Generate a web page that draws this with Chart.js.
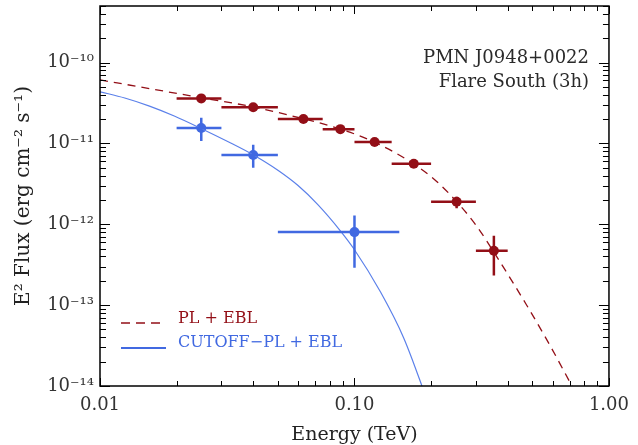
<!DOCTYPE html>
<html>
<head>
<meta charset="utf-8">
<script src="https://cdn.jsdelivr.net/npm/chart.js@4.4.1/dist/chart.umd.min.js"></script>
<style>html,body{margin:0;padding:0;background:#fff}</style>
</head>
<body>
<canvas id="sed" width="638" height="445"></canvas>
<script>
// measured spectral points (E in TeV, E^2 flux in erg cm^-2 s^-1)
var redE    = [0.025, 0.040, 0.063, 0.088, 0.120, 0.171, 0.252, 0.353];
var redF    = [3.6e-11, 2.8e-11, 2.0e-11, 1.5e-11, 1.04e-11, 5.6e-12, 1.9e-12, 4.7e-13];
var redELo  = [0.020, 0.030, 0.050, 0.075, 0.100, 0.140, 0.200, 0.300];
var redEHi  = [0.030, 0.050, 0.075, 0.100, 0.140, 0.200, 0.300, 0.400];
var redFLo  = [3.4e-11, 2.65e-11, 1.9e-11, 1.42e-11, 0.98e-11, 5.2e-12, 1.58e-12, 2.33e-13];
var redFHi  = [3.8e-11, 2.95e-11, 2.1e-11, 1.58e-11, 1.10e-11, 6.0e-12, 2.19e-12, 7.2e-13];

var blueE   = [0.025, 0.040, 0.100];
var blueF   = [1.55e-11, 7.2e-12, 8.0e-13];
var blueELo = [0.020, 0.030, 0.050];
var blueEHi = [0.030, 0.050, 0.150];
var blueFLo = [1.07e-11, 5.0e-12, 2.9e-13];
var blueFHi = [2.08e-11, 9.6e-12, 1.28e-12];

// model curves
var plModelE  = [0.010, 0.01565, 0.0250, 0.0401, 0.0628, 0.0877, 0.1204, 0.1707, 0.2104, 0.2517,
                 0.3010, 0.3601, 0.4713, 0.5804, 0.7051, 0.7713];
var plModelF  = [6.09e-11, 4.76e-11, 3.67e-11, 2.82e-11, 2.02e-11, 1.51e-11, 1.03e-11, 5.57e-12, 3.38e-12, 1.91e-12,
                 9.64e-13, 4.09e-13, 1.04e-13, 3.37e-14, 1.09e-14, 6.5e-15];
var cutModelE = [0.010, 0.01251, 0.01565, 0.01958, 0.02494, 0.03205, 0.0401, 0.05017, 0.06001, 0.07178,
                 0.08799, 0.0994, 0.1266, 0.1561, 0.1839, 0.1958];
var cutModelF = [4.35e-11, 3.64e-11, 2.89e-11, 2.18e-11, 1.53e-11, 1.04e-11, 7.18e-12, 4.62e-12, 3.01e-12, 1.75e-12,
                 8.31e-13, 4.98e-13, 1.45e-13, 3.93e-14, 1.01e-14, 5.7e-15];

var xTicks = [0.01, 0.1, 1];
var xTickLabels = ['0.01', '0.10', '1.00'];
var yTicks = [1e-14, 1e-13, 1e-12, 1e-11, 1e-10];
var yTickLabels = ['10\u207B\u00B9\u2074', '10\u207B\u00B9\u00B3', '10\u207B\u00B9\u00B2', '10\u207B\u00B9\u00B9', '10\u207B\u00B9\u2070'];

var RED = '#930f17';
var BLUE = '#4169e1';
var SERIF = 'DejaVu Serif';

function pts(xs, ys) {
    return xs.map(function (x, i) { return {x: x, y: ys[i]}; });
}

var errorBars = {
    id: 'errorBars',
    afterDatasetsDraw: function (chart) {
        var ctx = chart.ctx, xs = chart.scales.x, ys = chart.scales.y;
        function bars(E, F, eLo, eHi, fLo, fHi, color) {
            ctx.save();
            ctx.strokeStyle = color;
            ctx.lineWidth = 2.5;
            for (var i = 0; i < E.length; i++) {
                var px = xs.getPixelForValue(E[i]), py = ys.getPixelForValue(F[i]);
                ctx.beginPath();
                ctx.moveTo(xs.getPixelForValue(eLo[i]), py);
                ctx.lineTo(xs.getPixelForValue(eHi[i]), py);
                ctx.moveTo(px, ys.getPixelForValue(fLo[i]));
                ctx.lineTo(px, ys.getPixelForValue(fHi[i]));
                ctx.stroke();
            }
            ctx.restore();
        }
        bars(redE, redF, redELo, redEHi, redFLo, redFHi, RED);
        bars(blueE, blueF, blueELo, blueEHi, blueFLo, blueFHi, BLUE);
    }
};

var frameAndText = {
    id: 'frameAndText',
    afterDraw: function (chart) {
        var ctx = chart.ctx, a = chart.chartArea, xs = chart.scales.x, ys = chart.scales.y;
        ctx.save();
        ctx.strokeStyle = '#000';
        ctx.lineWidth = 1.5;
        ctx.strokeRect(a.left, a.top, a.right - a.left, a.bottom - a.top);
        ctx.lineWidth = 1;
        ctx.beginPath();
        // x ticks, bottom and top
        xTicks.forEach(function (d) {
            for (var k = 1; k <= 9; k++) {
                var v = d * k;
                if (v < xs.min - 1e-12 || v > xs.max + 1e-12) continue;
                var px = Math.round(xs.getPixelForValue(v)) + 0.5;
                var len = k === 1 ? 8 : 5;
                ctx.moveTo(px, a.bottom); ctx.lineTo(px, a.bottom - len);
                ctx.moveTo(px, a.top); ctx.lineTo(px, a.top + len);
            }
        });
        // y ticks, left and right
        yTicks.forEach(function (d) {
            for (var k = 1; k <= 9; k++) {
                var v = d * k;
                if (v < ys.min * 0.999 || v > ys.max * 1.001) continue;
                var py = Math.round(ys.getPixelForValue(v)) + 0.5;
                var len = k === 1 ? 10 : 6;
                ctx.moveTo(a.left, py); ctx.lineTo(a.left + len, py);
                ctx.moveTo(a.right, py); ctx.lineTo(a.right - len, py);
            }
        });
        ctx.stroke();

        // legend
        ctx.lineWidth = 1.3;
        ctx.strokeStyle = RED;
        ctx.setLineDash([9, 6]);
        ctx.beginPath(); ctx.moveTo(121, 323); ctx.lineTo(166, 323); ctx.stroke();
        ctx.setLineDash([]);
        ctx.lineWidth = 2;
        ctx.strokeStyle = BLUE;
        ctx.beginPath(); ctx.moveTo(121, 348); ctx.lineTo(166, 348); ctx.stroke();
        ctx.font = '16px "' + SERIF + '"';
        ctx.textBaseline = 'alphabetic';
        ctx.fillStyle = RED;
        ctx.fillText(chart.data.datasets[0].label, 178, 323);
        ctx.fillStyle = BLUE;
        ctx.fillText(chart.data.datasets[1].label, 178, 347);

        // source label
        ctx.font = '18px "' + SERIF + '"';
        ctx.fillStyle = '#2a2a2a';
        ctx.textAlign = 'right';
        ctx.fillText('PMN J0948+0022', 589, 63);
        ctx.fillText('Flare South (3h)', 589, 87);
        ctx.restore();
    }
};

var ctx = document.getElementById('sed').getContext('2d');
var sedChart = new Chart(ctx, {
    type: 'scatter',
    data: {
        datasets: [{
            label: 'PL + EBL',
            data: pts(plModelE, plModelF),
            showLine: true,
            borderColor: RED,
            borderWidth: 1.3,
            borderDash: [8, 6],
            pointRadius: 0,
            cubicInterpolationMode: 'monotone'
        }, {
            label: 'CUTOFF\u2212PL + EBL',
            data: pts(cutModelE, cutModelF),
            showLine: true,
            borderColor: '#5b80ea',
            borderWidth: 1.2,
            pointRadius: 0,
            cubicInterpolationMode: 'monotone'
        }, {
            label: 'points PL',
            data: pts(redE, redF),
            pointRadius: 5,
            backgroundColor: RED,
            borderWidth: 0
        }, {
            label: 'points cutoff',
            data: pts(blueE, blueF),
            pointRadius: 5,
            backgroundColor: BLUE,
            borderWidth: 0
        }]
    },
    options: {
        responsive: false,
        animation: false,
        devicePixelRatio: 1,
        layout: {padding: {left: 0, right: 23, top: 6, bottom: 0}},
        plugins: {legend: {display: false}, tooltip: {enabled: false}},
        scales: {
            x: {
                type: 'logarithmic',
                min: 0.01,
                max: 1,
                grid: {display: false, drawTicks: false},
                border: {display: false},
                afterBuildTicks: function (s) { s.ticks = xTicks.map(function (v) { return {value: v}; }); },
                afterFit: function (s) { s.height = 59; },
                ticks: {
                    autoSkip: false,
                    maxRotation: 0,
                    padding: 9,
                    color: '#333',
                    font: {family: SERIF, size: 18},
                    callback: function (v) { return xTickLabels[xTicks.indexOf(v)]; }
                },
                title: {
                    display: true,
                    text: 'Energy (TeV)',
                    color: '#222',
                    font: {family: SERIF, size: 19, lineHeight: 1},
                    padding: {top: 0, bottom: 0}
                }
            },
            y: {
                type: 'logarithmic',
                min: 1e-14,
                max: 5e-10,
                grid: {display: false, drawTicks: false},
                border: {display: false},
                afterBuildTicks: function (s) { s.ticks = yTicks.map(function (v) { return {value: v}; }); },
                afterFit: function (s) { s.width = 100; s.paddingTop = 0; s.paddingBottom = 0; },
                ticks: {
                    autoSkip: false,
                    padding: 6,
                    color: '#333',
                    font: {family: SERIF, size: 18},
                    callback: function (v) {
                        for (var i = 0; i < yTicks.length; i++) {
                            if (Math.abs(v / yTicks[i] - 1) < 1e-6) return yTickLabels[i];
                        }
                        return '';
                    }
                },
                title: {
                    display: true,
                    text: 'E\u00B2 Flux (erg cm\u207B\u00B2 s\u207B\u00B9)',
                    color: '#222',
                    font: {family: SERIF, size: 20, lineHeight: 1},
                    padding: {top: 14, bottom: 0}
                }
            }
        }
    },
    plugins: [errorBars, frameAndText]
});
</script>
</body>
</html>
